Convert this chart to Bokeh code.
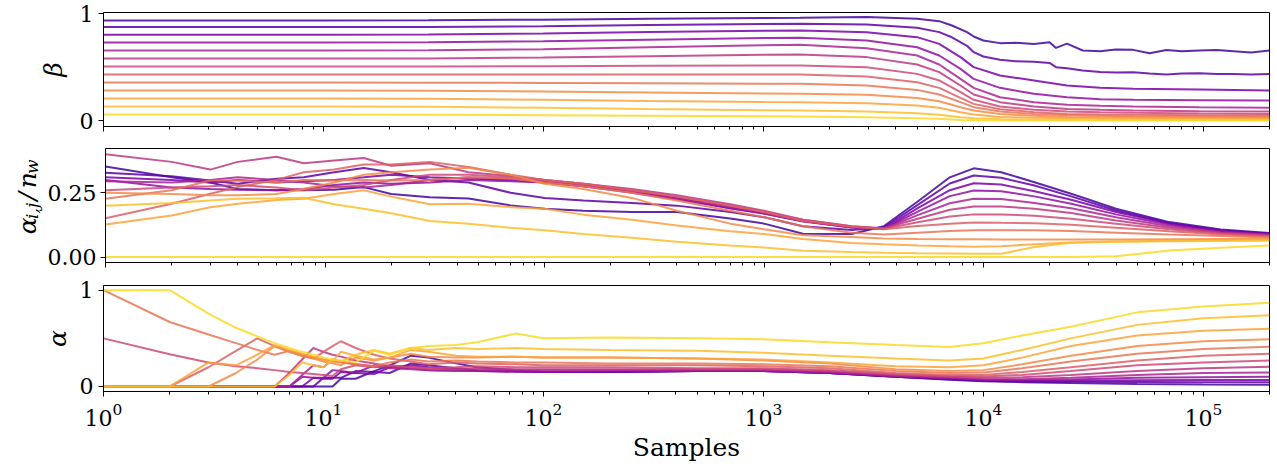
import math
from bokeh.plotting import figure
from bokeh.layouts import column, row
from bokeh.models import FixedTicker, LogTickFormatter, Range1d, PrintfTickFormatter
from bokeh.core.properties import value
from bokeh.palettes import Plasma256
from bokeh.embed import file_html
from bokeh.resources import INLINE

# ---------------- data ----------------
# Top panel: beta vs samples
X_BETA_NOISY = [1, 10, 30, 100, 300, 1000, 1470, 2950, 5000, 6300, 7200, 8430, 9040, 10000, 11900, 14000,
                17000, 20000, 21400, 24000, 28300, 34000, 40000, 48000, 57000, 68000, 80000, 96000, 115000,
                137000, 165000, 200000]
X_BETA_SMOOTH = [1, 10, 30, 100, 300, 1000, 1470, 2950, 5000, 6300, 7870, 9040, 11900, 17000, 24000, 34000,
                 48000, 96000, 200000]

BETA_0 = [0.937, 0.937, 0.939, 0.945, 0.953, 0.96, 0.962, 0.969, 0.953, 0.931, 0.89, 0.828, 0.787, 0.75, 0.725, 0.728,
          0.718, 0.734, 0.68, 0.72, 0.656, 0.65, 0.665, 0.662, 0.63, 0.66, 0.648, 0.656, 0.66, 0.65, 0.638, 0.656]
BETA_1 = [0.875, 0.875, 0.877, 0.884, 0.895, 0.904, 0.906, 0.9, 0.869, 0.828, 0.78, 0.70, 0.64, 0.6, 0.569, 0.555,
          0.55, 0.54, 0.5, 0.49, 0.469, 0.455, 0.45, 0.453, 0.44, 0.431, 0.44, 0.444, 0.436, 0.437, 0.432, 0.437]
BETA_2 = [0.803, 0.803, 0.805, 0.815, 0.83, 0.842, 0.843, 0.828, 0.781, 0.718, 0.594, 0.5, 0.422, 0.375, 0.328, 0.306, 0.297, 0.29, 0.281]
BETA_3 = [0.731, 0.731, 0.733, 0.742, 0.757, 0.772, 0.775, 0.75, 0.687, 0.609, 0.484, 0.39, 0.306, 0.25, 0.218, 0.2, 0.194, 0.19, 0.187]
BETA_4 = [0.656, 0.656, 0.658, 0.668, 0.686, 0.705, 0.709, 0.678, 0.609, 0.525, 0.39, 0.306, 0.218, 0.172, 0.147, 0.138, 0.131, 0.124, 0.119]
BETA_5 = [0.581, 0.581, 0.582, 0.59, 0.603, 0.616, 0.619, 0.594, 0.525, 0.453, 0.328, 0.244, 0.172, 0.131, 0.109, 0.1, 0.094, 0.088, 0.084]
BETA_6 = [0.506, 0.506, 0.506, 0.508, 0.512, 0.515, 0.515, 0.5, 0.437, 0.375, 0.265, 0.194, 0.131, 0.1, 0.084, 0.077, 0.072, 0.066, 0.062]
BETA_7 = [0.431, 0.431, 0.431, 0.431, 0.432, 0.431, 0.431, 0.412, 0.359, 0.306, 0.212, 0.156, 0.106, 0.078, 0.062, 0.057, 0.053, 0.049, 0.047]
BETA_8 = [0.356, 0.356, 0.355, 0.352, 0.349, 0.345, 0.344, 0.328, 0.287, 0.244, 0.172, 0.125, 0.084, 0.062, 0.05, 0.044, 0.041, 0.037, 0.034]
BETA_9 = [0.281, 0.281, 0.279, 0.272, 0.262, 0.253, 0.25, 0.241, 0.212, 0.181, 0.125, 0.094, 0.062, 0.044, 0.034, 0.03, 0.028, 0.026, 0.025]
BETA_10 = [0.206, 0.206, 0.203, 0.195, 0.184, 0.174, 0.172, 0.162, 0.141, 0.119, 0.078, 0.056, 0.034, 0.025, 0.021, 0.019, 0.018, 0.017, 0.016]
BETA_11 = [0.131, 0.131, 0.128, 0.12, 0.108, 0.097, 0.094, 0.084, 0.069, 0.053, 0.031, 0.022, 0.012, 0.009, 0.008, 0.007, 0.007, 0.006, 0.006]
BETA_12 = [0.056, 0.056, 0.054, 0.05, 0.044, 0.039, 0.037, 0.031, 0.022, 0.016, 0.006, 0.003, 0.001, 0.0, 0.0, 0.0, 0.0, 0.0, 0.0]

# Middle panel: alpha_{i,j} / n_w
X_NORM = [1, 2, 3, 4, 6, 8, 11, 15, 20, 30, 45, 70, 100, 150, 250, 400, 700, 1000, 1500, 2500, 3500, 5000, 7000,
          9000, 12000, 17000, 25000, 40000, 70000, 120000, 200000]
NORM_0 = [0.352, 0.31, 0.29, 0.265, 0.26, 0.26, 0.262, 0.272, 0.245, 0.233, 0.228, 0.201, 0.188, 0.18, 0.175, 0.175,
          0.15, 0.13, 0.091, 0.09, 0.12, 0.216, 0.31, 0.345, 0.33, 0.291, 0.246, 0.188, 0.136, 0.107, 0.094]
NORM_1 = [0.328, 0.314, 0.298, 0.285, 0.304, 0.31, 0.33, 0.346, 0.33, 0.3, 0.29, 0.25, 0.23, 0.22, 0.21, 0.2,
          0.175, 0.155, 0.12, 0.105, 0.115, 0.203, 0.286, 0.317, 0.308, 0.278, 0.236, 0.181, 0.132, 0.104, 0.091]
NORM_2 = [0.31, 0.3, 0.29, 0.3, 0.29, 0.295, 0.3, 0.31, 0.32, 0.31, 0.305, 0.3, 0.29, 0.275, 0.255, 0.23,
          0.19, 0.17, 0.14, 0.115, 0.11, 0.19, 0.26, 0.287, 0.282, 0.256, 0.223, 0.175, 0.13, 0.101, 0.09]
NORM_3 = [0.3, 0.27, 0.265, 0.262, 0.26, 0.265, 0.28, 0.29, 0.285, 0.29, 0.3, 0.295, 0.29, 0.275, 0.25, 0.225,
          0.19, 0.168, 0.138, 0.115, 0.11, 0.177, 0.237, 0.259, 0.256, 0.236, 0.207, 0.166, 0.126, 0.1, 0.088]
NORM_4 = [0.295, 0.29, 0.3, 0.31, 0.3, 0.29, 0.275, 0.27, 0.28, 0.3, 0.31, 0.305, 0.295, 0.28, 0.255, 0.23,
          0.195, 0.17, 0.14, 0.118, 0.11, 0.163, 0.209, 0.227, 0.226, 0.21, 0.19, 0.155, 0.12, 0.097, 0.087]
NORM_5 = [0.40, 0.37, 0.34, 0.37, 0.39, 0.365, 0.375, 0.385, 0.355, 0.365, 0.33, 0.315, 0.3, 0.285, 0.265, 0.24,
          0.205, 0.18, 0.145, 0.12, 0.112, 0.149, 0.184, 0.197, 0.197, 0.188, 0.171, 0.142, 0.114, 0.095, 0.084]
NORM_6 = [0.26, 0.27, 0.275, 0.28, 0.27, 0.26, 0.27, 0.28, 0.3, 0.32, 0.32, 0.31, 0.3, 0.285, 0.26, 0.235,
          0.2, 0.175, 0.145, 0.12, 0.11, 0.135, 0.158, 0.166, 0.166, 0.161, 0.149, 0.13, 0.108, 0.091, 0.082]
NORM_7 = [0.151, 0.207, 0.246, 0.272, 0.3, 0.33, 0.34, 0.36, 0.36, 0.37, 0.35, 0.32, 0.3, 0.285, 0.26, 0.235,
          0.2, 0.175, 0.14, 0.118, 0.108, 0.121, 0.13, 0.134, 0.133, 0.132, 0.126, 0.114, 0.1, 0.088, 0.079]
NORM_8 = [0.227, 0.26, 0.298, 0.298, 0.29, 0.3, 0.298, 0.3, 0.298, 0.3, 0.31, 0.305, 0.29, 0.275, 0.25, 0.22,
          0.18, 0.155, 0.12, 0.095, 0.088, 0.095, 0.101, 0.104, 0.104, 0.104, 0.101, 0.095, 0.088, 0.082, 0.076]
NORM_9 = [0.25, 0.245, 0.24, 0.24, 0.245, 0.265, 0.29, 0.32, 0.33, 0.34, 0.347, 0.32, 0.285, 0.265, 0.23, 0.18,
          0.13, 0.108, 0.085, 0.078, 0.072, 0.07, 0.069, 0.069, 0.068, 0.068, 0.068, 0.068, 0.069, 0.07, 0.071]
NORM_10 = [0.127, 0.162, 0.194, 0.207, 0.222, 0.227, 0.245, 0.26, 0.235, 0.205, 0.207, 0.194, 0.188, 0.165, 0.145, 0.123,
           0.1, 0.09, 0.07, 0.055, 0.05, 0.045, 0.042, 0.04, 0.042, 0.05, 0.057, 0.061, 0.064, 0.066, 0.068]
NORM_11 = [0.2, 0.21, 0.22, 0.227, 0.229, 0.231, 0.205, 0.188, 0.17, 0.14, 0.13, 0.114, 0.104, 0.09, 0.075, 0.06,
           0.045, 0.037, 0.025, 0.02, 0.017, 0.015, 0.014, 0.013, 0.013, 0.039, 0.056, 0.06, 0.062, 0.063, 0.064]
NORM_12 = [0.0, 0.0, 0.0, 0.0, 0.0, 0.0, 0.0, 0.0, 0.0, 0.0, 0.0, 0.0, 0.0, 0.0, 0.0, 0.0,
           0.0, 0.0, 0.0, 0.0, 0.0, 0.0, 0.0, 0.0, 0.0, 0.0, 0.0, 0.003, 0.026, 0.036, 0.045]

# Bottom panel: alpha vs samples
X_ALPHA = [1, 2, 3, 4, 5, 6, 7, 8, 9, 10, 11, 12, 14, 17, 20, 25, 30, 40, 50, 75, 100, 200, 500, 1000, 2000,
           4000, 7000, 10000, 15000, 25000, 50000, 100000, 200000]
ALPHA_0 = [0, 0, 0, 0, 0, 0, 0, 0, 0, 0, 0, 0.08, 0.08, 0.16, 0.22, 0.32, 0.3,
           0.24, 0.2, 0.17, 0.15, 0.15, 0.16, 0.16, 0.14, 0.1, 0.07, 0.055, 0.045, 0.035, 0.027, 0.022, 0.019]
ALPHA_1 = [0, 0, 0, 0, 0, 0, 0, 0, 0, 0.09, 0.09, 0.09, 0.16, 0.15, 0.14, 0.24, 0.22,
           0.19, 0.17, 0.16, 0.15, 0.15, 0.16, 0.16, 0.14, 0.1, 0.075, 0.06, 0.052, 0.05, 0.047, 0.044, 0.043]
ALPHA_2 = [0, 0, 0, 0, 0, 0, 0, 0, 0.09, 0.08, 0.08, 0.15, 0.14, 0.13, 0.2, 0.22, 0.2,
           0.18, 0.16, 0.16, 0.15, 0.15, 0.16, 0.16, 0.14, 0.1, 0.08, 0.065, 0.058, 0.06, 0.066, 0.068, 0.068]
ALPHA_3 = [0, 0, 0, 0, 0, 0, 0, 0.1, 0.09, 0.09, 0.17, 0.16, 0.14, 0.22, 0.2, 0.19, 0.17,
           0.16, 0.16, 0.15, 0.15, 0.16, 0.16, 0.16, 0.14, 0.11, 0.085, 0.07, 0.065, 0.072, 0.09, 0.097, 0.101]
ALPHA_4 = [0, 0, 0, 0, 0, 0, 0, 0.12, 0.22, 0.2, 0.28, 0.26, 0.23, 0.21, 0.19, 0.18, 0.17,
           0.17, 0.17, 0.17, 0.17, 0.17, 0.17, 0.17, 0.15, 0.11, 0.09, 0.075, 0.075, 0.09, 0.12, 0.14, 0.146]
ALPHA_5 = [0, 0, 0, 0, 0, 0, 0.14, 0.28, 0.40, 0.36, 0.33, 0.31, 0.27, 0.24, 0.21, 0.2, 0.19,
           0.18, 0.19, 0.18, 0.18, 0.18, 0.18, 0.18, 0.16, 0.12, 0.1, 0.09, 0.095, 0.12, 0.16, 0.19, 0.205]
ALPHA_6 = [0.5, 0.335, 0.25, 0.21, 0.19, 0.17, 0.15, 0.14, 0.13, 0.12, 0.11, 0.18, 0.22, 0.2, 0.22, 0.2, 0.19,
           0.2, 0.21, 0.2, 0.2, 0.2, 0.19, 0.19, 0.17, 0.13, 0.11, 0.105, 0.12, 0.16, 0.22, 0.25, 0.27]
ALPHA_7 = [0, 0, 0.2, 0.37, 0.5, 0.42, 0.36, 0.32, 0.29, 0.36, 0.42, 0.47, 0.40, 0.33, 0.29, 0.26, 0.23,
           0.25, 0.24, 0.23, 0.22, 0.22, 0.22, 0.21, 0.19, 0.14, 0.12, 0.12, 0.15, 0.2, 0.27, 0.32, 0.341]
ALPHA_8 = [1.0, 0.67, 0.54, 0.45, 0.38, 0.33, 0.37, 0.33, 0.30, 0.28, 0.26, 0.25, 0.23, 0.21, 0.25, 0.28, 0.26,
           0.27, 0.26, 0.25, 0.25, 0.24, 0.24, 0.23, 0.21, 0.16, 0.14, 0.145, 0.19, 0.26, 0.34, 0.39, 0.413]
ALPHA_9 = [0, 0, 0, 0.14, 0.28, 0.42, 0.36, 0.32, 0.29, 0.26, 0.24, 0.22, 0.30, 0.27, 0.30, 0.34, 0.31,
           0.30, 0.30, 0.31, 0.30, 0.30, 0.29, 0.27, 0.24, 0.18, 0.16, 0.17, 0.23, 0.32, 0.42, 0.47, 0.49]
ALPHA_10 = [0, 0, 0.25, 0.22, 0.33, 0.43, 0.38, 0.34, 0.31, 0.28, 0.26, 0.36, 0.32, 0.28, 0.30, 0.38, 0.36,
            0.32, 0.31, 0.31, 0.30, 0.30, 0.29, 0.28, 0.25, 0.21, 0.20, 0.22, 0.30, 0.42, 0.53, 0.58, 0.60]
ALPHA_11 = [0, 0, 0, 0, 0, 0, 0.12, 0.25, 0.22, 0.2, 0.28, 0.26, 0.33, 0.38, 0.34, 0.40, 0.38,
            0.40, 0.39, 0.40, 0.39, 0.38, 0.37, 0.35, 0.32, 0.29, 0.27, 0.29, 0.38, 0.50, 0.64, 0.71, 0.74]
ALPHA_12 = [1.0, 1.0, 0.757, 0.61, 0.52, 0.45, 0.40, 0.36, 0.33, 0.30, 0.28, 0.27, 0.25, 0.37, 0.33, 0.40, 0.42,
            0.43, 0.46, 0.55, 0.50, 0.51, 0.50, 0.49, 0.46, 0.43, 0.41, 0.45, 0.53, 0.62, 0.77, 0.83, 0.87]

X_MAJOR = [1, 10, 100, 1000, 10000, 100000]
X_MINOR = [k * 10 ** d for d in range(6) for k in range(2, 10) if k * 10 ** d <= 200000]
Y_TICKS_BETA = [0, 1]
Y_TICKS_NORM = [0.0, 0.25]
Y_TICKS_ALPHA = [0, 1]

# y label of the middle panel, alpha_{i,j}/n_w, written in pieces (main text and subscripts)
NORM_LABEL_PARTS = ["α", "i,j", "/", "n", "w"]
NORM_LABEL_SUB = [False, True, False, False, True]

# ---------------- styling ----------------
N_LINES = 13
COLORS = [Plasma256[int(round((0.1 + 0.83 * i / (N_LINES - 1)) * 255))] for i in range(N_LINES)]
SERIF = "DejaVu Serif"
WIDTH = 1274
LEFT = 103
RIGHT = 5
LAB_W = 44


def make_fig(width, left, height, top, bottom, yr, yticks, show_x):
    p = figure(width=width, height=height, x_axis_type="log",
               x_range=Range1d(1, 200000), y_range=Range1d(*yr),
               output_backend="svg", toolbar_location=None,
               min_border_left=left, min_border_right=RIGHT,
               min_border_top=top, min_border_bottom=bottom)
    p.xgrid.visible = False
    p.ygrid.visible = False
    p.outline_line_color = "black"
    p.outline_line_alpha = 1.0
    p.outline_line_width = 1
    xa = p.xaxis[0]
    xa.ticker = FixedTicker(ticks=X_MAJOR, minor_ticks=X_MINOR)
    xa.formatter = LogTickFormatter()
    xa.major_tick_in = 0
    xa.major_tick_out = 5
    xa.minor_tick_in = 0
    xa.minor_tick_out = 3
    xa.axis_line_color = "black"
    xa.major_tick_line_color = "black"
    xa.minor_tick_line_color = "black"
    xa.major_label_text_font = SERIF
    xa.major_label_text_color = "black"
    if show_x:
        xa.major_label_text_font_size = "22px"
        xa.major_label_standoff = 6
    else:
        xa.major_label_text_font_size = "1px"
        xa.major_label_text_alpha = 0.0
        xa.major_label_standoff = 0
    ya = p.yaxis[0]
    ya.ticker = FixedTicker(ticks=yticks, minor_ticks=[])
    ya.major_tick_in = 0
    ya.major_tick_out = 5
    ya.axis_line_color = "black"
    ya.major_tick_line_color = "black"
    ya.major_label_text_font = SERIF
    ya.major_label_text_font_size = "22px"
    ya.major_label_text_color = "black"
    ya.major_label_standoff = 5
    ya.axis_label_text_font = SERIF
    ya.axis_label_text_font_size = "25px"
    ya.axis_label_text_font_style = "italic"
    ya.axis_label_text_color = "black"
    ya.axis_label_standoff = 5
    return p


# panel 1
Y1 = (-0.056, 1.012)
p1 = make_fig(WIDTH, LEFT, 137, 12, 11, Y1, Y_TICKS_BETA, False)
p1.yaxis[0].axis_label = "β"
p1.yaxis[0].axis_label_standoff = 9
beta_lines = [BETA_0, BETA_1, BETA_2, BETA_3, BETA_4, BETA_5, BETA_6, BETA_7, BETA_8, BETA_9, BETA_10, BETA_11, BETA_12]
for i, ys in enumerate(beta_lines):
    xs = X_BETA_NOISY if len(ys) == len(X_BETA_NOISY) else X_BETA_SMOOTH
    p1.line(xs, ys, line_color=COLORS[i], line_width=2, line_alpha=0.85)

# panel 2 (with a narrow label strip on its left)
H2 = 137
Y2 = (-0.021, 0.422)
p2 = make_fig(WIDTH - LAB_W, LEFT - LAB_W, H2, 11, 12, Y2, Y_TICKS_NORM, False)
p2.yaxis[0].formatter = PrintfTickFormatter(format="%.2f")
p2.yaxis[0].major_label_standoff = 4
norm_lines = [NORM_0, NORM_1, NORM_2, NORM_3, NORM_4, NORM_5, NORM_6, NORM_7, NORM_8, NORM_9, NORM_10, NORM_11, NORM_12]
for i, ys in enumerate(norm_lines):
    p2.line(X_NORM, ys, line_color=COLORS[i], line_width=2, line_alpha=0.85)

lab = figure(width=LAB_W, height=H2, x_range=Range1d(0, LAB_W), y_range=Range1d(0, H2),
             output_backend="svg", toolbar_location=None,
             x_axis_location=None, y_axis_location=None,
             min_border=0, min_border_left=0, min_border_right=0,
             min_border_top=0, min_border_bottom=0)
lab.outline_line_color = None
lab.xgrid.visible = False
lab.ygrid.visible = False
# positions (px inside the strip) of each piece, reading upward
piece_y = [44, 62, 79.5, 99, 115]
for txt, sub, yy in zip(NORM_LABEL_PARTS, NORM_LABEL_SUB, piece_y):
    lab.text(x=[31 if sub else 27], y=[yy], text=[txt], angle=math.pi / 2,
             text_font=value(SERIF), text_font_style="italic",
             text_font_size="17px" if sub else "25px", text_color="black",
             text_align="center", text_baseline="alphabetic")

# panel 3
Y3 = (-0.052, 1.049)
p3 = make_fig(WIDTH, LEFT, 190, 11, 66, Y3, Y_TICKS_ALPHA, True)
p3.yaxis[0].axis_label = "α"
p3.xaxis[0].axis_label = "Samples"
p3.xaxis[0].axis_label_text_font = SERIF
p3.xaxis[0].axis_label_text_font_size = "25px"
p3.xaxis[0].axis_label_text_font_style = "normal"
p3.xaxis[0].axis_label_text_color = "black"
p3.xaxis[0].axis_label_standoff = 4
alpha_lines = [ALPHA_0, ALPHA_1, ALPHA_2, ALPHA_3, ALPHA_4, ALPHA_5, ALPHA_6, ALPHA_7, ALPHA_8, ALPHA_9, ALPHA_10, ALPHA_11, ALPHA_12]
for i, ys in enumerate(alpha_lines):
    p3.line(X_ALPHA, ys, line_color=COLORS[i], line_width=2, line_alpha=0.85)

layout = column(p1, row(lab, p2, spacing=0), p3, spacing=0)
open("out.html", "w").write(file_html(layout, INLINE))
